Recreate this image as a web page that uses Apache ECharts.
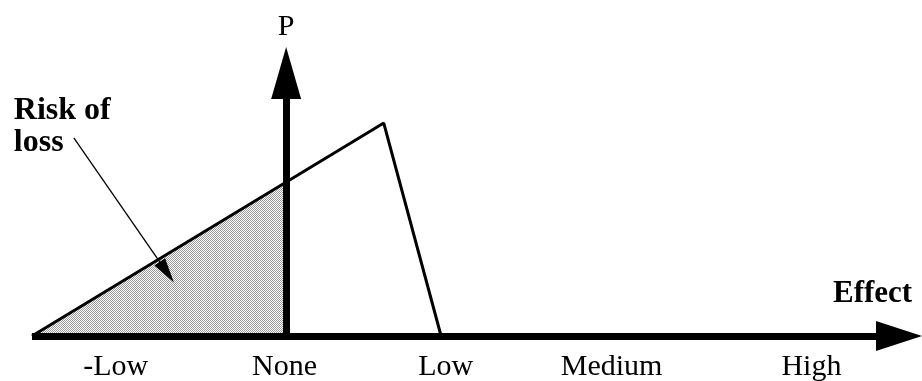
<!DOCTYPE html>
<html>
<head>
<meta charset="utf-8">
<script src="https://cdn.jsdelivr.net/npm/echarts@6/dist/echarts.min.js"></script>
<style>
html,body{margin:0;padding:0;background:#fff;}
#chart{width:922px;height:381px;}
</style>
</head>
<body>
<div id="chart"></div>
<script>
// ---- data ----
const tickLabels = ['-Low', 'None', 'Low', 'Medium', 'High'];
const tickPositions = [-1.10, -0.01, 1.03, 2.10, 3.39];
const distX = [-1.64, 0.63, 1.00];
const distP = [0, 1, 0];
const riskX = [-1.64, 0];
const riskP = [0, 0.72];
const annotFrom = [-1.37, 0.93];
const annotTo = [-0.77, 0.30];
const annotText = 'Risk of\nloss';
const xName = 'Effect';
const yName = 'P';

// ---- build ----
const serif = '"Liberation Serif","Times New Roman",serif';
const pc = document.createElement('canvas');
pc.width = 2; pc.height = 2;
const pctx = pc.getContext('2d');
pctx.fillStyle = '#ffffff'; pctx.fillRect(0, 0, 2, 2);
pctx.fillStyle = '#9a9a9a'; pctx.fillRect(0, 0, 1, 1); pctx.fillRect(1, 1, 1, 1);

const distData = distX.map((x, i) => [x, distP[i]]);
const riskData = riskX.map((x, i) => [x, riskP[i]]);

const chart = echarts.init(document.getElementById('chart'), null, {renderer: 'canvas'});
chart.setOption({
  animation: false,
  backgroundColor: '#fff',
  grid: {left: 32, right: 23, top: 73, bottom: 45, containLabel: false, outerBoundsMode: 'none'},
  xAxis: {
    type: 'value', min: -1.64, max: 3.955, z: 5,
    name: '{e|' + xName + '}\n{s| }', nameLocation: 'end', nameGap: -66, nameMoveOverlap: false,
    nameTextStyle: {
      color: '#000',
      rich: {
        e: {fontFamily: serif, fontSize: 31, fontWeight: 'bold', color: '#000', lineHeight: 31},
        s: {fontSize: 2, lineHeight: 84}
      }
    },
    axisLine: {show: true, onZero: true, symbol: ['none', 'triangle'], symbolSize: [30, 46],
      lineStyle: {color: '#000', width: 7, cap: 'butt'}},
    axisTick: {show: false},
    splitLine: {show: false},
    axisLabel: {
      show: true, margin: 16, color: '#000', fontFamily: serif, fontSize: 30,
      customValues: tickPositions,
      formatter: function (v) {
        let best = 0;
        tickPositions.forEach((p, i) => { if (Math.abs(p - v) < Math.abs(tickPositions[best] - v)) best = i; });
        return tickLabels[best];
      }
    }
  },
  yAxis: {
    type: 'value', min: 0, max: 1.235, z: 5,
    name: yName, nameLocation: 'end', nameGap: 31,
    nameTextStyle: {fontFamily: serif, fontSize: 30, color: '#000'},
    axisLine: {show: true, onZero: true, symbol: ['none', 'triangle'], symbolSize: [30, 52],
      lineStyle: {color: '#000', width: 7, cap: 'butt'}},
    axisTick: {show: false},
    splitLine: {show: false},
    axisLabel: {show: false}
  },
  series: [
    {
      type: 'line', data: riskData, symbol: 'none', z: 1,
      lineStyle: {width: 0},
      areaStyle: {color: {image: pc, repeat: 'repeat'}, opacity: 1},
      silent: true
    },
    {
      type: 'line', data: distData, symbol: 'none', z: 3,
      lineStyle: {color: '#000', width: 3},
      silent: true,
      markLine: {
        silent: true, symbol: ['none', 'triangle'], symbolSize: [13, 25],
        label: {show: false},
        lineStyle: {color: '#000', width: 1.3, type: 'solid'},
        emphasis: {disabled: true},
        data: [[{coord: annotFrom}, {coord: annotTo}]]
      },
      markPoint: {
        silent: true, symbol: 'circle', symbolSize: 0,
        data: [{coord: annotFrom}],
        label: {show: true, formatter: annotText, position: 'inside', align: 'left', verticalAlign: 'top',
          offset: [-60, -43], fontFamily: serif, fontSize: 32, fontWeight: 'bold', lineHeight: 32, color: '#000'}
      }
    }
  ]
});
</script>
</body>
</html>
